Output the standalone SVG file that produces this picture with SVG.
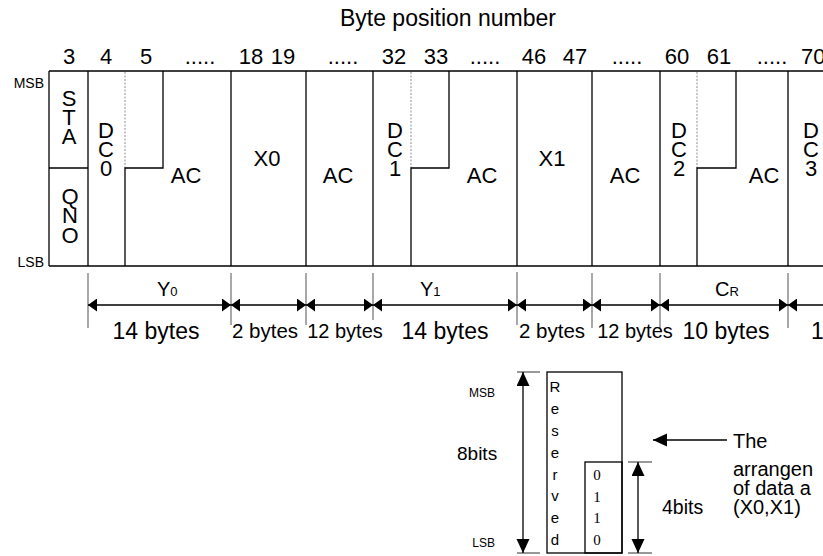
<svg xmlns="http://www.w3.org/2000/svg" width="823" height="556" viewBox="0 0 823 556">
<style>
text{font-family:"Liberation Sans",Arial,Helvetica,sans-serif;fill:#000}
.n{font-size:22px;text-anchor:middle}
.c{font-size:22px;text-anchor:middle}
.s{font-size:14px;text-anchor:end}
.t{font-size:20px}
.ln{stroke:#000;stroke-width:1.3;fill:none}
.dash{stroke:#9a9a9a;stroke-width:1.1;stroke-dasharray:2 1.5;fill:none}
.ext{stroke:#7a7a7a;stroke-width:1.3;fill:none}
.dim{stroke:#000;stroke-width:1.3;fill:none;marker-start:url(#ah);marker-end:url(#ah)}
.arr{stroke:#000;stroke-width:1.3;fill:none;marker-start:url(#ab);marker-end:url(#ab)}
.tick{stroke:#444;stroke-width:1.1;fill:none}
.serif{font-family:"Liberation Serif","Times New Roman",serif;font-size:15px;text-anchor:middle}
</style>
<defs>
<marker id="ah" markerUnits="userSpaceOnUse" markerWidth="10" markerHeight="13" refX="9" refY="6.5" orient="auto-start-reverse">
<path d="M0,0 L9,6.5 L0,13 z" fill="#000"/>
</marker>
<marker id="ab" markerUnits="userSpaceOnUse" markerWidth="15" markerHeight="14" refX="14" refY="6.5" orient="auto-start-reverse">
<path d="M0,0 L14,6.5 L0,13 z" fill="#000"/>
</marker>
</defs>

<text x="448" y="26" style="font-size:23px;text-anchor:middle">Byte position number</text>

<g id="byte-numbers">
<text class="n" x="69" y="64">3</text>
<text class="n" x="106" y="64">4</text>
<text class="n" x="146" y="64">5</text>
<text class="n" x="200" y="64">.....</text>
<text class="n" x="251" y="64">18</text>
<text class="n" x="283" y="64">19</text>
<text class="n" x="343" y="64">.....</text>
<text class="n" x="394" y="64">32</text>
<text class="n" x="436" y="64">33</text>
<text class="n" x="485" y="64">.....</text>
<text class="n" x="534" y="64">46</text>
<text class="n" x="575" y="64">47</text>
<text class="n" x="627" y="64">.....</text>
<text class="n" x="677" y="64">60</text>
<text class="n" x="719" y="64">61</text>
<text class="n" x="772" y="64">.....</text>
<text x="801" y="64" style="font-size:22px">70</text>
</g>

<g id="msb-lsb">
<text class="s" x="44" y="88">MSB</text>
<text class="s" x="44" y="267">LSB</text>
</g>

<g id="frame">
<line class="ln" x1="49" y1="71" x2="823" y2="71"/>
<line class="ln" x1="49" y1="266" x2="823" y2="266"/>
<line class="ln" x1="49" y1="71" x2="49" y2="266"/>
</g>

<g id="sta-qno">
<line class="ln" x1="49" y1="168" x2="88" y2="168"/>
<line class="ln" x1="88" y1="71" x2="88" y2="266"/>
<text class="c" x="69" y="106">S</text>
<text class="c" x="69" y="125">T</text>
<text class="c" x="69" y="144">A</text>
<text class="c" x="70" y="204">Q</text>
<text class="c" x="70" y="223">N</text>
<text class="c" x="70" y="243">O</text>
</g>

<g id="dc0">
<line class="dash" x1="125" y1="72" x2="125" y2="168"/>
<path class="ln" d="M163,71 V168 H125 V266"/>
<text class="c" x="106" y="138">D</text>
<text class="c" x="106" y="157">C</text>
<text class="c" x="106" y="176">0</text>
</g>

<g id="ac0">
<line class="ln" x1="231" y1="71" x2="231" y2="266"/>
<text class="c" x="186" y="183">AC</text>
</g>

<g id="x0">
<line class="ln" x1="306" y1="71" x2="306" y2="266"/>
<text class="c" x="267" y="166">X0</text>
</g>

<g id="ac0b">
<line class="ln" x1="373" y1="71" x2="373" y2="266"/>
<text class="c" x="338" y="183">AC</text>
</g>

<g id="dc1">
<line class="dash" x1="411" y1="72" x2="411" y2="168"/>
<path class="ln" d="M449,71 V168 H411 V266"/>
<text class="c" x="395" y="138">D</text>
<text class="c" x="395" y="157">C</text>
<text class="c" x="395" y="176">1</text>
</g>

<g id="ac1">
<line class="ln" x1="517" y1="71" x2="517" y2="266"/>
<text class="c" x="482" y="183">AC</text>
</g>

<g id="x1">
<line class="ln" x1="592" y1="71" x2="592" y2="266"/>
<text class="c" x="552" y="166">X1</text>
</g>

<g id="ac1b">
<line class="ln" x1="660" y1="71" x2="660" y2="266"/>
<text class="c" x="625" y="183">AC</text>
</g>

<g id="dc2">
<line class="dash" x1="697" y1="72" x2="697" y2="168"/>
<path class="ln" d="M736,71 V168 H697 V266"/>
<text class="c" x="679" y="138">D</text>
<text class="c" x="679" y="157">C</text>
<text class="c" x="679" y="176">2</text>
</g>

<g id="ac2">
<line class="ln" x1="788" y1="71" x2="788" y2="266"/>
<text class="c" x="764" y="183">AC</text>
</g>

<g id="dc3">
<text class="c" x="811" y="138">D</text>
<text class="c" x="811" y="157">C</text>
<text class="c" x="811" y="176">3</text>
</g>

<g id="connectors">
<g id="extension-lines">
<line class="ext" x1="88" y1="273" x2="88" y2="328"/>
<line class="ext" x1="231" y1="273" x2="231" y2="325"/>
<line class="ext" x1="306" y1="273" x2="306" y2="325"/>
<line class="ext" x1="373" y1="273" x2="373" y2="320"/>
<line class="ext" x1="517" y1="272" x2="517" y2="325"/>
<line class="ext" x1="592" y1="273" x2="592" y2="328"/>
<line class="ext" x1="660" y1="273" x2="660" y2="328"/>
<line class="ext" x1="788" y1="273" x2="788" y2="328"/>
</g>
<g id="dimension-lines">
<line class="dim" x1="88" y1="305" x2="231" y2="305"/>
<line class="dim" x1="231" y1="305" x2="306" y2="305"/>
<line class="dim" x1="306" y1="305" x2="373" y2="305"/>
<line class="dim" x1="373" y1="305" x2="517" y2="305"/>
<line class="dim" x1="517" y1="305" x2="592" y2="305"/>
<line class="dim" x1="592" y1="305" x2="660" y2="305"/>
<line class="dim" x1="660" y1="305" x2="788" y2="305"/>
<line class="ln" x1="788" y1="305" x2="823" y2="305" style="marker-start:url(#ah)"/>
</g>
<g id="bit-arrows">
<line class="tick" x1="517" y1="372" x2="540" y2="372"/>
<line class="tick" x1="517" y1="553" x2="540" y2="553"/>
<line class="arr" x1="523" y1="372" x2="523" y2="553"/>
<line class="tick" x1="628" y1="462" x2="652" y2="462"/>
<line class="tick" x1="628" y1="553" x2="652" y2="553"/>
<line class="arr" x1="638" y1="462" x2="638" y2="553"/>
<line class="ln" x1="727" y1="440" x2="653" y2="440" style="marker-end:url(#ab)"/>
</g>
</g>

<g id="dimension-labels">
<text x="157" y="296" class="t">Y<tspan style="font-size:13px">0</tspan></text>
<text x="420" y="296" class="t">Y<tspan style="font-size:13px">1</tspan></text>
<text x="715" y="296" class="t">C<tspan style="font-size:13px">R</tspan></text>
<text x="156" y="339" style="font-size:23px;text-anchor:middle">14 bytes</text>
<text x="265" y="338" style="font-size:20.5px;text-anchor:middle">2 bytes</text>
<text x="345" y="338" style="font-size:20px;text-anchor:middle">12 bytes</text>
<text x="445" y="339" style="font-size:23px;text-anchor:middle">14 bytes</text>
<text x="552" y="338" style="font-size:20.5px;text-anchor:middle">2 bytes</text>
<text x="635" y="338" style="font-size:20px;text-anchor:middle">12 bytes</text>
<text x="726" y="339" style="font-size:23px;text-anchor:middle">10 bytes</text>
<text x="811" y="339" style="font-size:23px">1</text>
</g>

<g id="byte-format">
<text x="495" y="397" style="font-size:12px;text-anchor:end">MSB</text>
<text x="495" y="547" style="font-size:12px;text-anchor:end">LSB</text>
<text x="457" y="460" style="font-size:19px">8bits</text>
<rect class="ln" x="547" y="372" width="75" height="181"/>
<g id="reserved" style="font-size:15px;text-anchor:middle">
<text x="555" y="392">R</text>
<text x="555" y="414">e</text>
<text x="555" y="436">s</text>
<text x="555" y="458">e</text>
<text x="555" y="480">r</text>
<text x="555" y="501">v</text>
<text x="555" y="523">e</text>
<text x="555" y="545">d</text>
</g>
<g id="value-0110">
<rect class="ln" x="585" y="462" width="37" height="91"/>
<text class="serif" x="597" y="480">0</text>
<text class="serif" x="597" y="502">1</text>
<text class="serif" x="597" y="523">1</text>
<text class="serif" x="597" y="545">0</text>
</g>
<text x="662" y="514" style="font-size:19.5px">4bits</text>
<text x="733" y="448" class="t">The</text>
<text x="733" y="476" class="t">arrangen</text>
<text x="733" y="495" class="t">of data a</text>
<text x="733" y="514" class="t">(X0,X1)</text>
</g>
</svg>
